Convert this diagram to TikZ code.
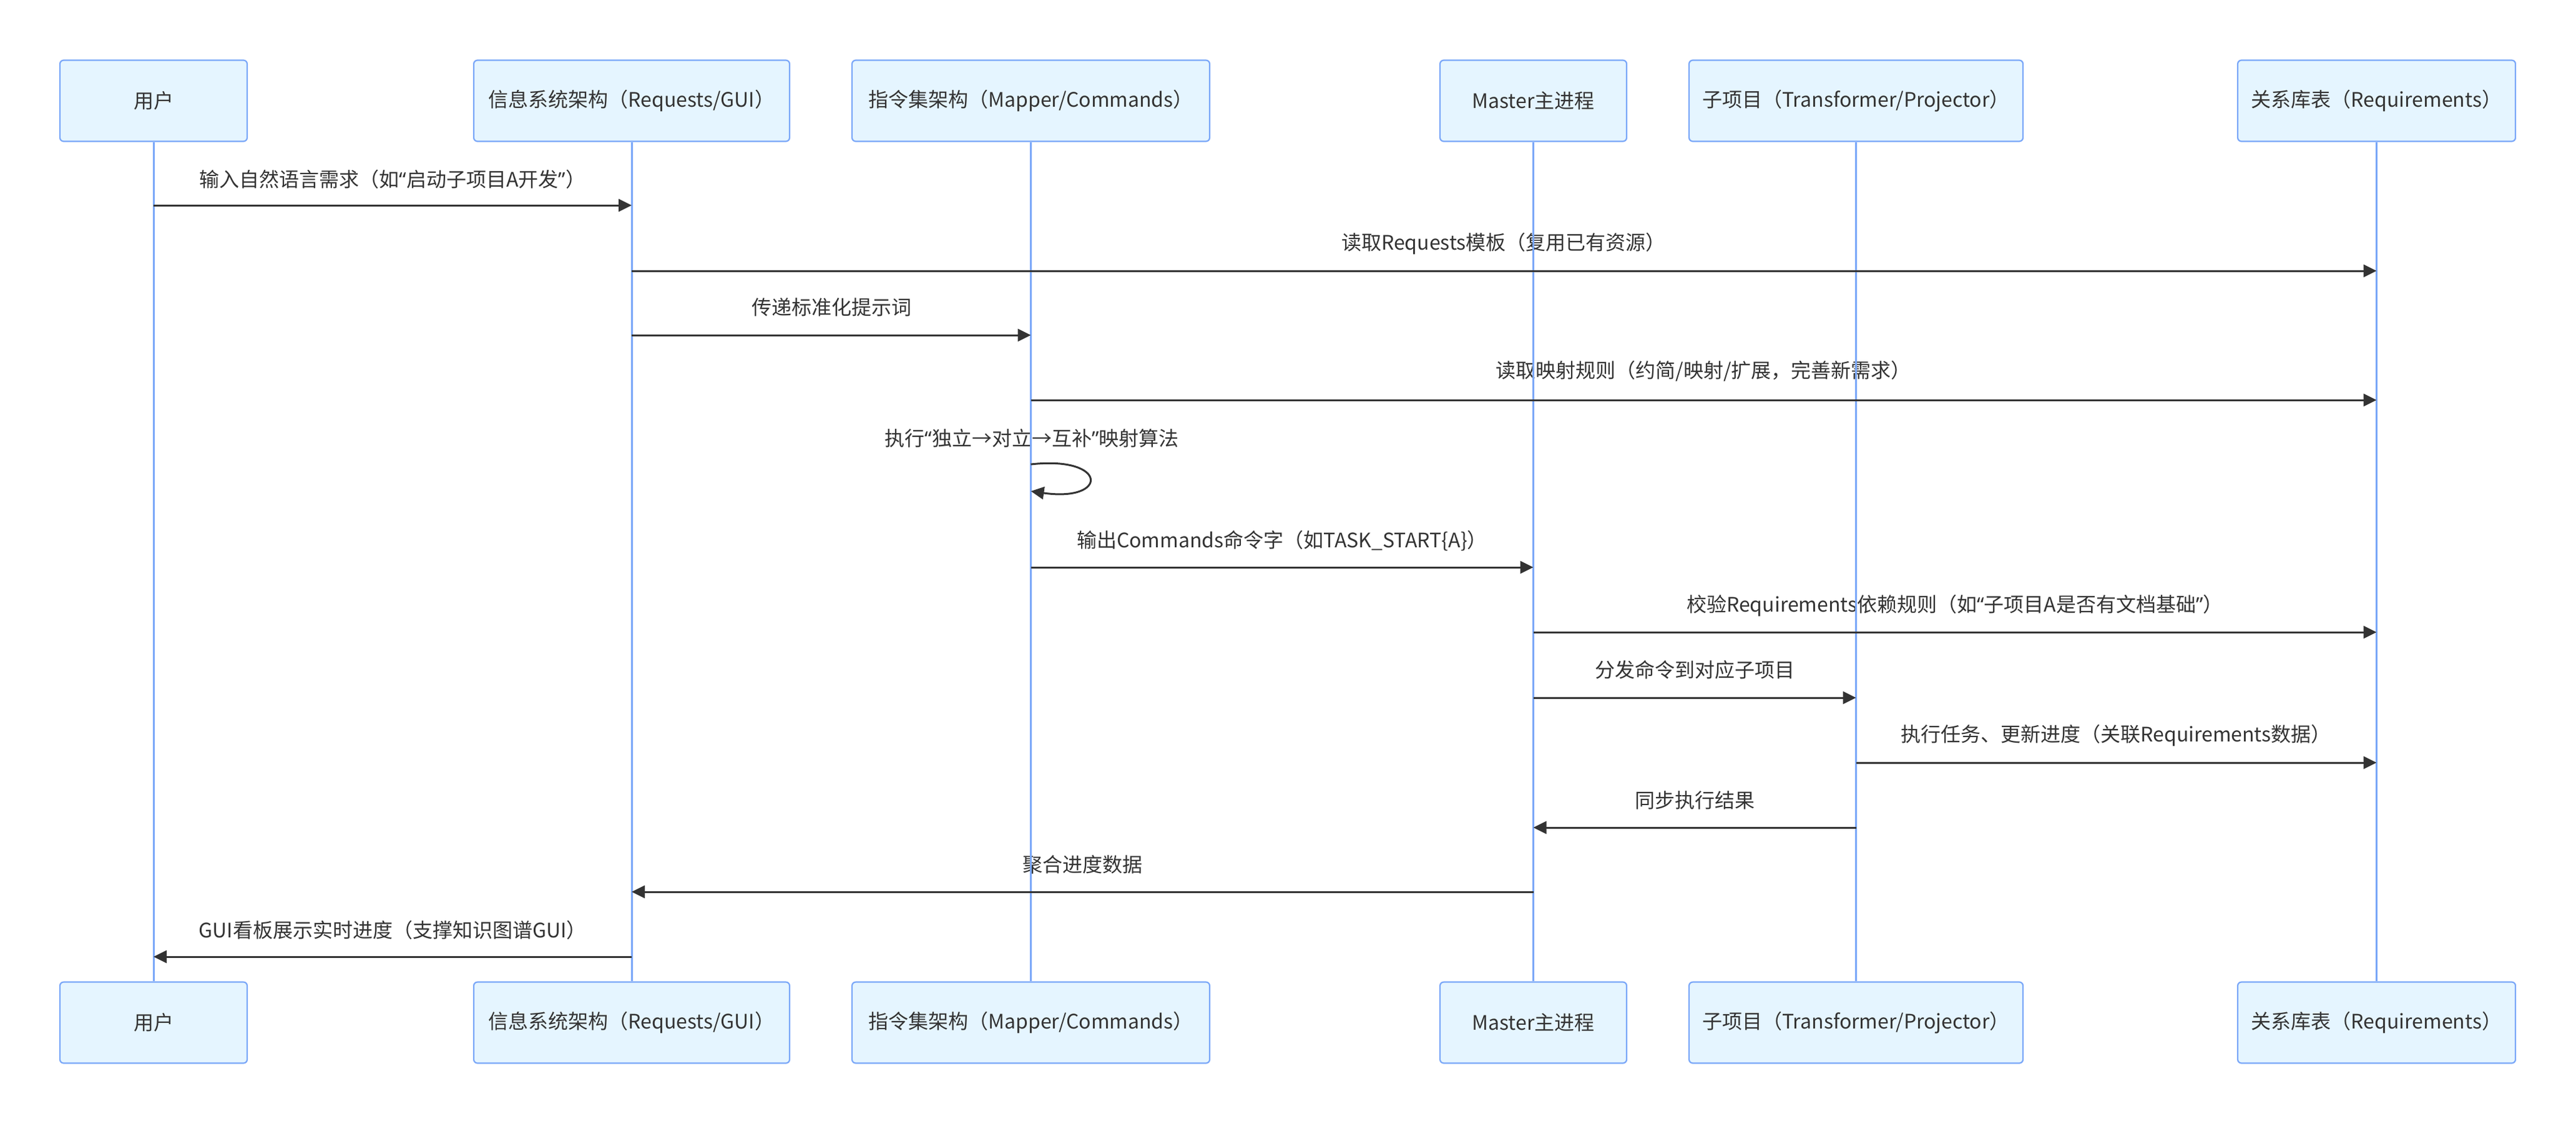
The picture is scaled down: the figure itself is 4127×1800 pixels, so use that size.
\documentclass[tikz,border=0pt]{standalone}
\usepackage{fontspec}
\setmainfont{Noto Sans CJK SC}
\newfontfamily\qfont{Noto Sans}
\newcommand{\myLQ}{{\qfont “}}
\newcommand{\myRQ}{{\qfont ”}}
\usetikzlibrary{arrows.meta}
\definecolor{boxfill}{HTML}{E5F5FF}
\definecolor{boxline}{HTML}{7AA7F8}
\definecolor{msgline}{HTML}{333333}
\definecolor{txt}{HTML}{333333}
\begin{document}
\begin{tikzpicture}[x=0.5pt,y=-0.5pt,
  actor/.style={draw=boxline, line width=1.1pt, fill=boxfill, rounded corners=3pt,
    minimum height=65pt, inner sep=0pt, font=\fontsize{16}{19}\selectfont, text=txt},
  life/.style={draw=boxline, line width=1.5pt},
  msg/.style={draw=msgline, line width=1.5pt, -{Triangle[length=10.5pt,width=10pt]}},
  lbl/.style={font=\fontsize{16}{19}\selectfont, text=txt, inner sep=0pt}]
\useasboundingbox (0,0) rectangle (4127,1800);
% top actors
\node[actor, minimum width=150pt]   (uT) at (246,161.5)    {用户};
\node[actor, minimum width=253pt]   (iT) at (1012,161.5)   {信息系统架构（Requests/GUI）};
\node[actor, minimum width=286.5pt] (cT) at (1651.5,161.5) {指令集架构（Mapper/Commands）};
\node[actor, minimum width=149.5pt] (mT) at (2456.5,161.5) {Master主进程};
\node[actor, minimum width=267.5pt] (sT) at (2973.5,161.5) {子项目（Transformer/Projector）};
\node[actor, minimum width=222.5pt] (rT) at (3807.5,161.5) {关系库表（Requirements）};
% bottom actors
\node[actor, minimum width=150pt]   (uB) at (246,1638.5)    {用户};
\node[actor, minimum width=253pt]   (iB) at (1012,1638.5)   {信息系统架构（Requests/GUI）};
\node[actor, minimum width=286.5pt] (cB) at (1651.5,1638.5) {指令集架构（Mapper/Commands）};
\node[actor, minimum width=149.5pt] (mB) at (2456.5,1638.5) {Master主进程};
\node[actor, minimum width=267.5pt] (sB) at (2973.5,1638.5) {子项目（Transformer/Projector）};
\node[actor, minimum width=222.5pt] (rB) at (3807.5,1638.5) {关系库表（Requirements）};
% labels
\node[lbl] (l1)  at (629,287)    {输入自然语言需求（如\myLQ 启动子项目A开发\myRQ）};
\node[lbl] (l2)  at (2409,390)   {读取Requests模板（复用已有资源）};
\node[lbl] (l3)  at (1332,492)   {传递标准化提示词};
\node[lbl] (l4)  at (2729,595)   {读取映射规则（约简/映射/扩展，完善新需求）};
\node[lbl] (l5)  at (1653,702)   {执行\myLQ 独立→对立→互补\myRQ 映射算法};
\node[lbl] (l6)  at (2054,867)   {输出Commands命令字（如TASK\_START\{A\}）};
\node[lbl] (l7)  at (3132,970)   {校验Requirements依赖规则（如\myLQ 子项目A是否有文档基础\myRQ）};
\node[lbl] (l8)  at (2715,1073)  {分发命令到对应子项目};
\node[lbl] (l9)  at (3390,1178)  {执行任务、更新进度（关联Requirements数据）};
\node[lbl] (l10) at (2715,1282)  {同步执行结果};
\node[lbl] (l11) at (1734,1385)  {聚合进度数据};
\node[lbl] (l12) at (629,1490)   {GUI看板展示实时进度（支撑知识图谱GUI）};
% lifelines
\draw[life] (uT.south) -- (uB.north);
\draw[life] (iT.south) -- (iB.north);
\draw[life] (cT.south) -- (cB.north);
\draw[life] (mT.south) -- (mB.north);
\draw[life] (sT.south) -- (sB.north);
\draw[life] (rT.south) -- (rB.north);
% messages
\draw[msg] (uT.south |- 0,329)  -- (iT.south |- 0,329);
\draw[msg] (iT.south |- 0,434)  -- (rT.south |- 0,434);
\draw[msg] (iT.south |- 0,537)  -- (cT.south |- 0,537);
\draw[msg] (cT.south |- 0,641)  -- (rT.south |- 0,641);
\draw[msg] (cT.south |- 0,744) .. controls (1776,730) and (1776,805) .. (cT.south |- 0,787);
\draw[msg] (cT.south |- 0,909)  -- (mT.south |- 0,909);
\draw[msg] (mT.south |- 0,1013) -- (rT.south |- 0,1013);
\draw[msg] (mT.south |- 0,1118) -- (sT.south |- 0,1118);
\draw[msg] (sT.south |- 0,1222) -- (rT.south |- 0,1222);
\draw[msg] (sT.south |- 0,1326) -- (mT.south |- 0,1326);
\draw[msg] (mT.south |- 0,1429) -- (iT.south |- 0,1429);
\draw[msg] (iT.south |- 0,1533) -- (uT.south |- 0,1533);
\end{tikzpicture}
\end{document}
